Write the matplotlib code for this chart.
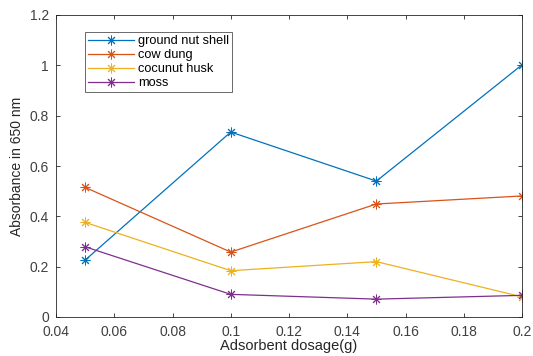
import matplotlib
matplotlib.use("Agg")
import matplotlib.pyplot as plt

dosage = [0.05, 0.1, 0.15, 0.2]
ground_nut = [0.226, 0.735, 0.540, 1.002]
cow_dung = [0.515, 0.258, 0.449, 0.481]
coconut = [0.376, 0.184, 0.220, 0.080]
moss = [0.279, 0.090, 0.071, 0.086]

labels = ["ground nut shell", "cow dung", "cocunut husk", "moss"]
colors = ["#0072BD", "#D95319", "#EDB120", "#7E2F8E"]

plt.rcParams['font.family'] = ['Liberation Sans', 'DejaVu Sans']

fig = plt.figure(figsize=(5.33, 3.56), dpi=100)
ax = fig.add_axes([56/533, 1 - 317/356, (522-56)/533, (317-15)/356])

for ys, lab, c in zip([ground_nut, cow_dung, coconut, moss], labels, colors):
    ax.plot(dosage, ys, color=c, marker=(8, 2, 0), markersize=7, markeredgewidth=0.7,
            linewidth=0.9, label=lab)

ax.set_xlim(0.04, 0.2)
ax.set_ylim(0, 1.2)
ax.set_xticks([0.04, 0.06, 0.08, 0.1, 0.12, 0.14, 0.16, 0.18, 0.2])
ax.set_xticklabels(["0.04", "0.06", "0.08", "0.1", "0.12", "0.14", "0.16", "0.18", "0.2"])
ax.set_yticks([0, 0.2, 0.4, 0.6, 0.8, 1, 1.2])
ax.set_yticklabels(["0", "0.2", "0.4", "0.6", "0.8", "1", "1.2"])
ax.tick_params(direction="in", top=True, right=True, labelsize=10, labelcolor="#404040",
               color="#262626", length=3, width=0.6)
ax.tick_params(axis="x", pad=6)
ax.tick_params(axis="y", pad=5)
for s in ax.spines.values():
    s.set_color("#262626")
    s.set_linewidth(0.6)
ax.set_xlabel("Adsorbent dosage(g)", fontsize=10.5, color="#262626", labelpad=0)
ax.set_ylabel("Absorbance in 650 nm", fontsize=10, color="#262626", labelpad=4)

leg = ax.legend(loc="upper left", bbox_to_anchor=(0.062, 0.943), fontsize=9.2,
                frameon=True, fancybox=False, edgecolor="#262626", handlelength=3.6,
                borderpad=0.25, labelspacing=0.15, handletextpad=0.3, borderaxespad=0)
leg.get_frame().set_linewidth(0.6)

fig.savefig("out.png", dpi=100)
